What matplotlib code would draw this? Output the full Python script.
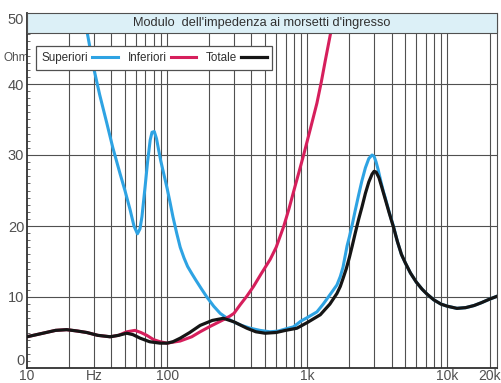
import matplotlib
matplotlib.use("Agg")
from matplotlib import pyplot as plt
from matplotlib.patches import Rectangle

# valori (frequenza in Hz, modulo in ohm)
f_sup = [25, 26.7, 29.8, 33, 37.1, 41, 46.1, 50, 54.4, 58, 61.4, 64, 66.1, 69.6, 72.5,
         75.7, 78, 81, 84, 87, 90, 95, 100, 105, 110, 117, 124, 132, 140, 150, 160, 175,
         192, 215, 239, 268, 298, 340, 392, 460, 542, 620, 700, 798, 900, 1000, 1172,
         1300, 1450, 1629, 1722, 1800, 1924, 2000, 2100, 2200, 2322, 2450, 2600, 2750,
         2900, 3000, 3100, 3200, 3350, 3500, 3600, 3850, 4130, 4400, 4700, 5012, 5443,
         6000, 6600, 7163, 8000, 9000, 10000, 11700, 13500, 15500, 17500, 20000, 22600]
z_sup = [51, 47.6, 42.4, 38.5, 34.5, 31, 27.4, 25, 22.3, 20.0, 18.9, 19.6, 21.3, 25.5, 29,
         32.1, 33.2, 33.3, 32.3, 30.7, 29.2, 27.2, 25.3, 23.3, 21.3, 19.0, 17.0, 15.5,
         14.3, 13.3, 12.4, 11.2, 10.0, 8.7, 7.7, 7.0, 6.5, 6.0, 5.6, 5.3, 5.1, 5.2, 5.5,
         5.8, 6.6, 7.1, 7.9, 9.0, 10.3, 11.7, 12.9, 14.2, 17.2, 18.5, 20.3, 22.2, 24.3,
         26.3, 28.2, 29.5, 30.0, 29.8, 29.0, 28.0, 26.3, 24.8, 24.0, 21.9, 19.9, 17.8,
         16.0, 14.8, 13.4, 12.1, 11.1, 10.4, 9.6, 9.0, 8.7, 8.4, 8.5, 8.8, 9.2, 9.7, 10.1]

f_inf = [10, 13, 16, 19.2, 23, 26.7, 32, 39.2, 45, 51.5, 59, 65, 71.6, 80, 89, 100, 124,
         150, 172, 200, 230, 252, 280, 300, 332, 370, 414, 470, 544, 600, 678, 740, 798,
         870, 942, 1050, 1172, 1260, 1345, 1459, 1600]
z_inf = [4.4, 4.9, 5.3, 5.4, 5.2, 5.0, 4.6, 4.4, 4.6, 5.1, 5.3, 5.0, 4.6, 4.0, 3.7, 3.5, 3.8,
         4.4, 5.1, 5.8, 6.4, 6.8, 7.3, 7.7, 8.9, 10.1, 11.5, 13.3, 15.3, 17, 19.9, 22.4,
         24.8, 27.5, 30, 33.6, 37.3, 40.3, 43.3, 46.9, 51]

f_tot = [10, 13, 16, 19.2, 23, 26.7, 32, 39.2, 45, 51.5, 57, 64.2, 75, 89, 100, 110, 124,
         145, 172, 210, 252, 300, 371, 430, 500, 600, 700, 843, 1000, 1239, 1450, 1629,
         1722, 1800, 1900, 2000, 2100, 2200, 2330, 2459, 2600, 2750, 2900, 3000, 3100,
         3250, 3400, 3600, 3850, 4130, 4400, 4700, 5012, 5443, 6000, 6600, 7163, 8000,
         9000, 10000, 11700, 13500, 15500, 17500, 20000, 22600]
z_tot = [4.4, 4.9, 5.3, 5.4, 5.2, 5.0, 4.6, 4.4, 4.6, 4.9, 4.7, 4.2, 3.7, 3.5, 3.5, 3.7, 4.2,
         5.0, 6.0, 6.7, 7.0, 6.5, 5.6, 5.1, 4.9, 5.0, 5.3, 5.6, 6.4, 7.5, 9.0, 10.5,
         11.5, 12.6, 14.0, 15.6, 17.3, 19.0, 21.0, 22.7, 24.6, 26.2, 27.3, 27.7, 27.6,
         26.8, 25.5, 23.8, 21.8, 19.8, 17.8, 16.0, 14.8, 13.4, 12.1, 11.1, 10.4, 9.6,
         9.0, 8.7, 8.4, 8.5, 8.8, 9.2, 9.7, 10.1]

x_grid = [20, 30, 40, 50, 60, 70, 80, 90, 100, 200, 300, 400, 500, 600, 700, 800, 900,
          1000, 2000, 3000, 4000, 5000, 6000, 7000, 8000, 9000, 10000, 20000]
x_lab = {10: "10", 30: "Hz", 100: "100", 1000: "1k", 10000: "10k", 20000: "20k"}
y_ticks = [0, 10, 20, 30, 40, 50]

font = ['Liberation Sans', 'DejaVu Sans']
grey = '#505050'

fig = plt.figure(figsize=(5.01, 3.83), dpi=100)
ax = fig.add_axes([27 / 501, 15 / 383, 470 / 501, 355 / 383])
ax.set_xscale('log')
ax.set_xlim(10, 22600)
ax.set_ylim(0, 50)

ax.plot(f_sup, z_sup, color='#2ea3e3', lw=2.2, zorder=3, label='Superiori',
        solid_joinstyle='round')
ax.plot(f_inf, z_inf, color='#d61f5c', lw=2.2, zorder=4, label='Inferiori',
        solid_joinstyle='round')
ax.plot(f_tot, z_tot, color='#151515', lw=2.3, zorder=5, label='Totale',
        solid_joinstyle='round')

# griglia
for xv in x_grid:
    ax.axvline(xv, color=grey, lw=0.8, zorder=1)
for yv in [10, 20, 30, 40]:
    ax.axhline(yv, color=grey, lw=0.8, zorder=1)

# fascia del titolo
ax.add_patch(Rectangle((0, 47.2 / 50), 1, 1 - 47.2 / 50, transform=ax.transAxes,
                       facecolor='#dcf0f7', edgecolor=grey, lw=0.8, zorder=6, clip_on=False))
ax.text(0.5, 48.6 / 50, "Modulo  dell'impedenza ai morsetti d'ingresso", transform=ax.transAxes,
        ha='center', va='center', fontsize=9.2, color='#303030', family=font, zorder=7)

ax.set_xticks(list(x_lab.keys()))
ax.set_xticklabels(list(x_lab.values()), family=font, fontsize=10, color=grey)
ax.set_xticks([], minor=True)
ax.set_yticks(y_ticks)
ax.set_yticklabels([str(v) for v in y_ticks], family=font, fontsize=10.5, color=grey)
ylabs = ax.get_yticklabels()
ylabs[0].set_va('bottom')
ylabs[-1].set_va('top')
ax.set_yticks(range(0, 50), minor=True)
ax.tick_params(axis='x', length=0, pad=1)
ax.tick_params(axis='y', which='major', length=0, pad=2)
ax.tick_params(axis='y', which='minor', direction='in', length=2.5, width=0.6, color=grey)

# unita' di misura, in parte coperta dal grafico
fig.text(4 / 501, 1 - 58 / 383, 'Ohm', ha='left', va='center', fontsize=8.5, color=grey,
         family=font, zorder=-1)

for s in ['left', 'bottom']:
    ax.spines[s].set_color('#303030')
    ax.spines[s].set_linewidth(1.3)
ax.spines['right'].set_color(grey)
ax.spines['right'].set_linewidth(0.8)
ax.spines['top'].set_visible(False)

leg = ax.legend(loc='upper left', bbox_to_anchor=(0.019, 0.907), borderaxespad=0, ncol=3,
                markerfirst=False, handlelength=2.2, handletextpad=0.35, columnspacing=0.8,
                frameon=True, fancybox=False, framealpha=1, edgecolor=grey,
                prop={'family': font, 'size': 8.4}, borderpad=0.5)
leg.get_frame().set_linewidth(0.9)
leg.set_zorder(8)
for t in leg.get_texts():
    t.set_color('#303030')

fig.savefig('out.png', dpi=100)
